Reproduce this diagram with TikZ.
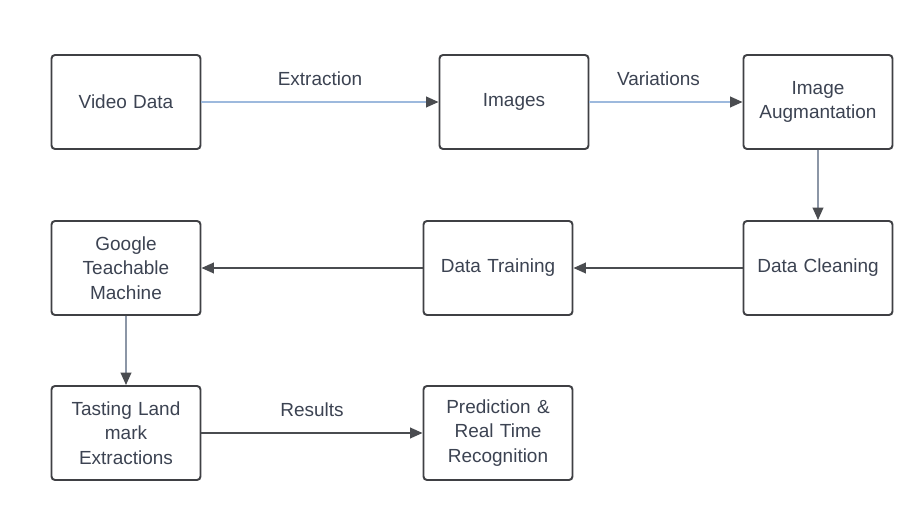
\documentclass[tikz,border=0pt]{standalone}
\usepackage{fontspec}
\setmainfont{Liberation Sans}
\usetikzlibrary{arrows.meta}
\definecolor{boxline}{HTML}{3F4044}
\definecolor{txt}{HTML}{3C4352}
\definecolor{flowblue}{HTML}{9DB9DD}
\definecolor{flowgray}{HTML}{8C96A6}
\definecolor{flowdark}{HTML}{4A4C50}
\begin{document}
\begin{tikzpicture}[
  block/.style={rectangle, draw=boxline, line width=1.1pt, rounded corners=2pt, minimum width=2.98cm, minimum height=1.88cm, text width=2.7cm, align=center, text=txt, font=\fontsize{10.8}{13.8}\selectfont},
  lbl/.style={text=txt, font=\fontsize{10.8}{13.8}\selectfont},
  >={Triangle[length=7pt,width=6pt,color=flowdark]},
  node distance=6cm
]
\useasboundingbox (-2.52,2.04) rectangle (15.86,-8.36);
\fill[white] (-2.52,2.04) rectangle (15.86,-8.36);

\node[block] (video) {Video Data};
\node[block, right of=video, node distance=7.76cm] (images) {Images};
\node[block, right of=images, node distance=6.08cm] (augment) {Image\\Augmantation};
\node[block, below of=augment, node distance=3.32cm] (cleaning) {Data Cleaning};
\node[block, left of=cleaning, node distance=6.4cm] (training) {Data Training};
\node[block, left of=training, node distance=7.44cm] (teachable) {Google\\Teachable\\Machine};
\node[block, below of=teachable, node distance=3.3cm] (tasting) {Tasting Land\\mark\\Extractions};
\node[block, right of=tasting, node distance=7.44cm] (predict) {Prediction \&\\Real Time\\Recognition};

\draw[->,flowblue,line width=1pt] (video) -- (images) node[lbl,midway,above=0.2cm] {Extraction};
\draw[->,flowblue,line width=1pt] (images) -- (augment) node[lbl,midway,above=0.2cm,xshift=-0.15cm] {Variations};
\draw[->,flowgray,line width=1pt] (augment) -- (cleaning);
\draw[->,flowdark,line width=1pt] (cleaning) -- (training);
\draw[->,flowdark,line width=1pt] (training) -- (teachable);
\draw[->,flowgray,line width=1pt] (teachable) -- (tasting);
\draw[->,flowdark,line width=1pt] (tasting) -- (predict) node[lbl,midway,above=0.2cm] {Results};
\end{tikzpicture}
\end{document}
